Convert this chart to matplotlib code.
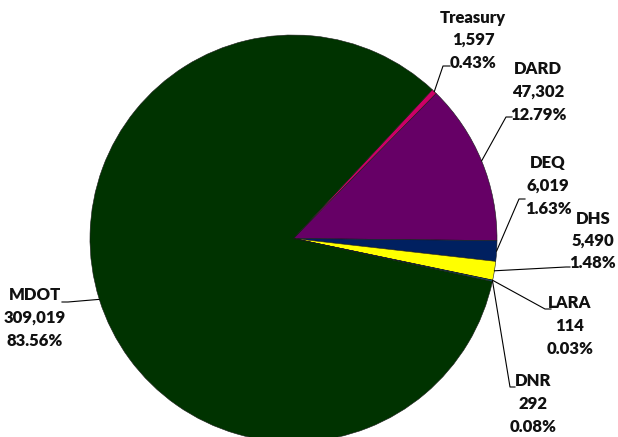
import numpy as np
import matplotlib.pyplot as plt

# Agencies, clockwise from the top-right
agencies = ['Treasury', 'DARD', 'DEQ', 'DHS', 'LARA', 'DNR', 'MDOT']
values = [1597, 47302, 6019, 5490, 114, 292, 309019]
colors = ['#CC0066', '#660066', '#002060', '#FFFF00', '#FF6600', '#00B0F0', '#003300']

# label block centre and leader elbow, in pixels of the 618x437 image
label_xy = [(473, 40), (538, 92), (548, 186), (593, 241), (570, 326), (533, 404), (35, 318)]
elbow_xy = [(443, 66), (506, 117), (519, 199), (566, 267), (545, 309), (510, 387), (68, 302)]
end_xy = [(450, 66), (512, 117), (525, 199), (570, 267), (551, 309), (515, 387), (62, 302)]

W, H = 618, 437
cx, cy, R = 293.5, 238.5, 203.5

fig = plt.figure(figsize=(W / 100, H / 100), dpi=100)
ax = fig.add_axes([(cx - R) / W, (H - cy - R) / H, 2 * R / W, 2 * R / H])

wedges, _ = ax.pie(values, colors=colors, startangle=47, counterclock=False,
                   radius=1, wedgeprops=dict(edgecolor='#1a1a1a', linewidth=0.4))
ax.set_aspect('auto')
ax.set_xlim(-1, 1)
ax.set_ylim(-1, 1)
ax.axis('off')
for w in wedges:
    w.set_clip_on(False)

def to_data(p):
    return (p[0] - cx) / R, (cy - p[1]) / R

total = sum(values)
for w, name, v, lxy, exy, nxy in zip(wedges, agencies, values, label_xy, elbow_xy, end_xy):
    mid = np.deg2rad((w.theta1 + w.theta2) / 2)
    ax0, ay0 = np.cos(mid), np.sin(mid)
    ex, ey = to_data(exy)
    nx, ny = to_data(nxy)
    ax.plot([ax0, ex, nx], [ay0, ey, ny], color='black', lw=0.8, clip_on=False)
    tx, ty = to_data(lxy)
    ax.text(tx, ty, f'{name}\n{v:,}\n{100 * v / total:.2f}%', ha='center', va='center',
            multialignment='center', fontsize=12, fontweight='heavy', family='Lato',
            color='#111111', linespacing=1.5, clip_on=False)

fig.savefig('out.png', dpi=100)
